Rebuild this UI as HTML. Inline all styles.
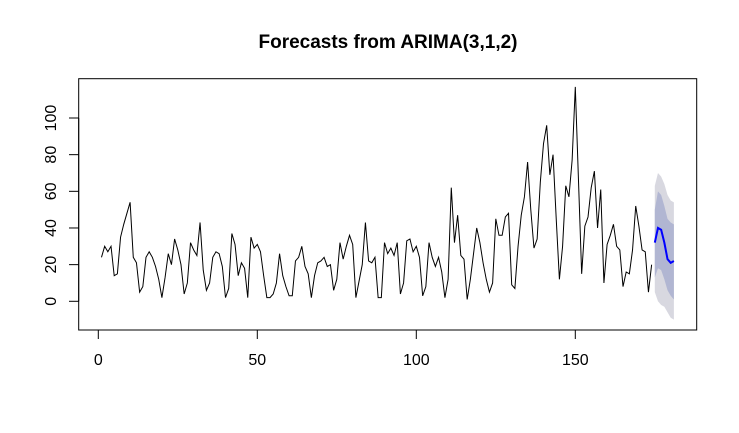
<!DOCTYPE html>
<html><head><meta charset="utf-8"><style>
body{margin:0;background:#fff}
svg text{font-family:"Liberation Sans",Arial,sans-serif}
</style></head><body>
<svg id="chart" width="739" height="428" xmlns="http://www.w3.org/2000/svg">
<rect width="739" height="428" fill="#fff"/>
<text x="388" y="48" text-anchor="middle" font-size="19" font-weight="bold">Forecasts from ARIMA(3,1,2)</text>
<g id="bands"></g>
<g id="lines"></g>
<rect x="78.7" y="78.7" width="618" height="251.3" fill="none" stroke="#000" stroke-width="1"/>
<g id="axes"></g>
</svg>
<script>
const series=[24,30,27,30,14,15,35,42,48,54,24,21,5,8,24,27,24,19,12,2,13,26,20,34,28,20,4,10,32,28,25,43,17,6,10,24,27,26,19,2,7,37,31,14,21,18,2,35,29,31,27,14,2,2,4,10,26,14,8,3,3,22,24,30,19,15,2,14,21,22,24,19,20,6,12,32,23,30,36,31,2,11,20,43,22,21,24,2,2,32,26,29,25,32,4,10,33,34,27,30,24,3,8,32,24,19,24,16,2,12,62,32,47,25,23,1,12,26,40,32,21,12,5,10,45,36,36,46,48,9,7,30,47,57,76,50,29,34,65,86,96,69,80,45,12,30,63,57,77,117,66,15,41,46,62,71,40,61,10,31,36,42,30,28,8,16,15,28,52,41,28,27,5,20];
const forecast=[32,40,39,32,23,21,22];
const lo80=[13,18,17,12,6,3,1];
const hi80=[50,60,58,52,45,43,42];
const lo95=[5,0,-2,-3,-6,-9,-10];
const hi95=[63,70,68,64,58,55,54];
const xTicks=[0,50,100,150];
const yTicks=[0,20,40,60,80,100];
const NS="http://www.w3.org/2000/svg";
const X=t=>98.3+3.18*t;
const Y=v=>301.3-1.833*v;
function mk(tag,attrs,parent){const e=document.createElementNS(NS,tag);for(const k in attrs)e.setAttribute(k,attrs[k]);parent.appendChild(e);return e;}
const bands=document.getElementById('bands'),lines=document.getElementById('lines'),axes=document.getElementById('axes');
const n=series.length;
function band(lo,hi,fill,name){
  let pts=[];
  hi.forEach((v,i)=>pts.push(X(n+1+i)+','+Y(v)));
  for(let i=lo.length-1;i>=0;i--)pts.push(X(n+1+i)+','+Y(lo[i]));
  const p=mk('polygon',{points:pts.join(' '),fill:fill},bands);
  
  
}
band(lo95,hi95,'#d8d8e0','interval-95');
band(lo80,hi80,'#b1b6d2','interval-80');
const sl=mk('polyline',{points:series.map((v,i)=>X(i+1)+','+Y(v)).join(' '),fill:'none',stroke:'#000','stroke-width':1},lines);


const fl=mk('polyline',{points:forecast.map((v,i)=>X(n+1+i)+','+Y(v)).join(' '),fill:'none',stroke:'#0000ff','stroke-width':2},lines);


mk('line',{x1:X(xTicks[0]),x2:X(xTicks[xTicks.length-1]),y1:330,y2:330,stroke:'#000'},axes);
xTicks.forEach(t=>{
  const l=mk('line',{x1:X(t),x2:X(t),y1:330,y2:339,stroke:'#000'},axes);
  
  
  const tx=mk('text',{x:X(t),y:365,'text-anchor':'middle','font-size':16},axes);
  tx.textContent=t;
  
  
});
mk('line',{x1:78.7,x2:78.7,y1:Y(yTicks[0]),y2:Y(yTicks[yTicks.length-1]),stroke:'#000'},axes);
yTicks.forEach(v=>{
  const l=mk('line',{x1:69,x2:78.7,y1:Y(v),y2:Y(v),stroke:'#000'},axes);
  
  
  const tx=mk('text',{x:56,y:Y(v),'text-anchor':'middle','font-size':16,transform:'rotate(-90 56 '+Y(v)+')'},axes);
  tx.textContent=v;
  
  
});
</script>
</body></html>
